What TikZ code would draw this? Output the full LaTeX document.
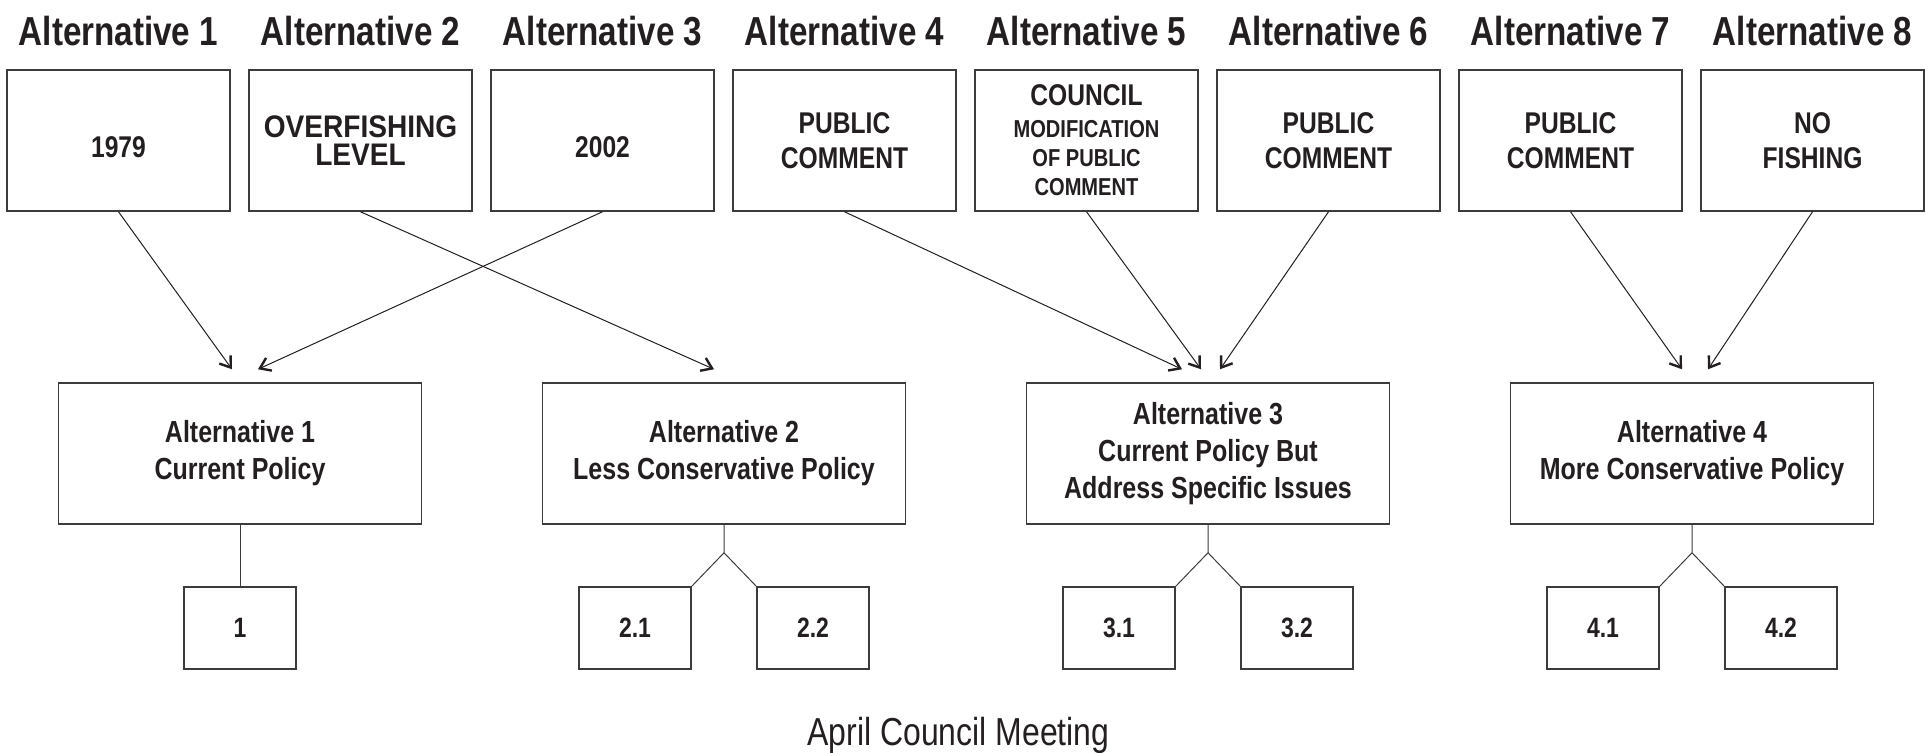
\documentclass[tikz,border=0pt]{standalone}
\usepackage{fontspec}
\newfontfamily\narrowfont{Liberation Sans}[FakeStretch=0.82]
\newfontfamily\semifont{Liberation Sans}[FakeStretch=0.9]
\usetikzlibrary{arrows.meta,calc}
\definecolor{ink}{HTML}{231F20}
\definecolor{frame}{HTML}{3C3C3C}

\begin{document}
\begin{tikzpicture}[x=0.5pt,y=-0.5pt,
  alttitle/.style={anchor=base,inner sep=0pt,text=ink,font=\narrowfont\bfseries\fontsize{20.25}{24}\selectfont},
  topbox/.style={draw=frame,line width=0.75pt,minimum width=111.5pt,minimum height=70.5pt,inner sep=0pt,align=center,text=ink,font=\narrowfont\bfseries\fontsize{15}{17.5}\selectfont},
  oneline/.style={text height=16.5pt,text depth=0pt},
  policybox/.style={draw=frame,line width=0.75pt,minimum width=181.5pt,minimum height=70.5pt,inner sep=0pt,align=center,text=ink,font=\narrowfont\bfseries\fontsize{15.25}{18.5}\selectfont},
  subbox/.style={draw=frame,line width=0.75pt,minimum width=56pt,minimum height=41pt,inner sep=0pt,text=ink,font=\narrowfont\bfseries\fontsize{14}{16}\selectfont},
  feed/.style={draw=ink,line width=0.5pt,-{Straight Barb[length=5pt,width=7pt,line width=1.2pt]}},
  stem/.style={draw=frame,line width=0.5pt}]
\useasboundingbox (0,0) rectangle (1925,752);

% headings
\foreach \i in {1,...,8}
  \node[alttitle] (h\i) at ({118.5+242*(\i-1)},45) {Alternative \i};

% source boxes
\node[topbox,oneline] (t1) at (118.5,140.5) {1979};
\node[topbox,font=\semifont\bfseries\fontsize{15.6}{14}\selectfont] (t2) at (360.5,140.5) {OVERFISHING\\LEVEL};
\node[topbox,oneline] (t3) at (602.5,140.5) {2002};
\node[topbox] (t4) at (844.5,140.5) {PUBLIC\\COMMENT};
\node[topbox,font=\narrowfont\bfseries\fontsize{12.25}{14.5}\selectfont] (t5) at (1086.5,140.5) {{\fontsize{15}{15}\selectfont COUNCIL}\\[1.5pt]MODIFICATION\\OF PUBLIC\\COMMENT};
\node[topbox] (t6) at (1328.5,140.5) {PUBLIC\\COMMENT};
\node[topbox] (t7) at (1570.5,140.5) {PUBLIC\\COMMENT};
\node[topbox] (t8) at (1812.5,140.5) {NO\\FISHING};

% policy boxes
\node[policybox] (a1) at (240,453.5) {Alternative 1\\Current Policy};
\node[policybox] (a2) at (724,453.5) {Alternative 2\\Less Conservative Policy};
\node[policybox] (a3) at (1208,453.5) {Alternative 3\\Current Policy But\\Address Specific Issues};
\node[policybox] (a4) at (1692,453.5) {Alternative 4\\More Conservative Policy};

% arrows into the policy boxes
\foreach \src/\dst/\dx in {t1/a1/-8,t3/a1/18,t2/a2/-10,t4/a3/-26,t5/a3/-7,t6/a3/12,t7/a4/-10,t8/a4/16}
  \draw[feed] (\src.south) -- ([shift={(\dx,-13)}]\dst.north);

% sub-options
\node[subbox] (s1) at (240,628) {1};
\draw[stem] (a1.south) -- (s1.north);
\foreach \j/\x in {2/724,3/1208,4/1692} {
  \node[subbox] (s\j1) at (\x-89,628) {\j.1};
  \node[subbox] (s\j2) at (\x+89,628) {\j.2};
  \coordinate (b\j) at ($(a\j.south)+(0,28)$);
  \draw[stem] (a\j.south) -- (b\j) -- (s\j1.north east);
  \draw[stem] (b\j) -- (s\j2.north west);
}

\node[anchor=base,inner sep=0pt,text=ink,font=\narrowfont\fontsize{19.5}{23}\selectfont] (meeting) at (958.5,745) {April Council Meeting};
\end{tikzpicture}
\end{document}
